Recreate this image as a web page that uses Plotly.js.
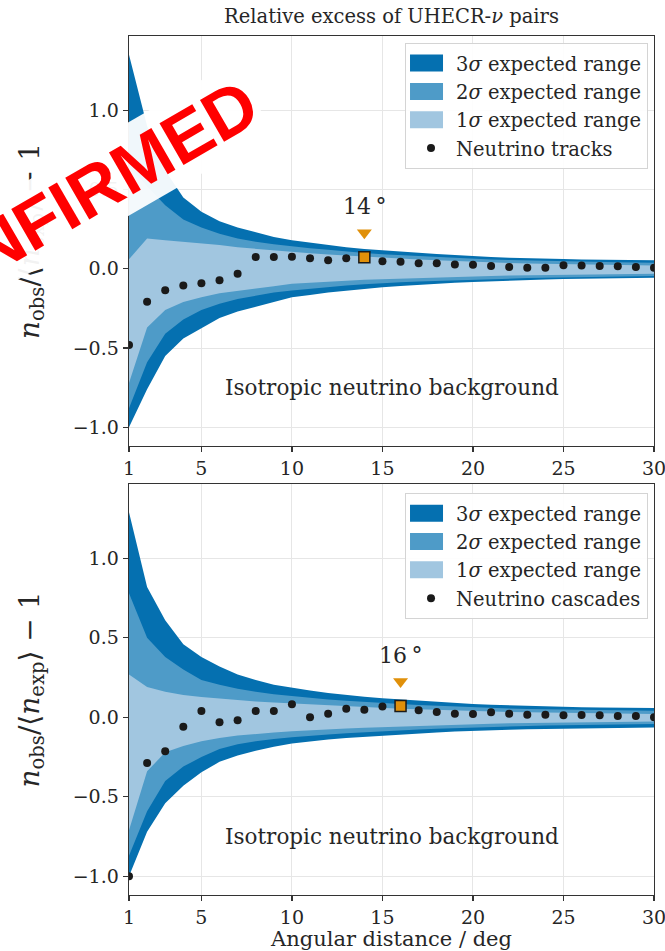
<!DOCTYPE html>
<html><head><meta charset="utf-8">
<script src="https://cdn.plot.ly/plotly-3.0.1.min.js"></script>
<style>html,body{margin:0;padding:0;background:#fff}</style>
</head><body><div id="chart" style="width:665px;height:951px"></div>
<script>
// ---------- data ----------
const angles = [1,2,3,4,5,6,7,8,9,10,11,12,13,14,15,16,17,18,19,20,21,22,23,24,25,26,27,28,29,30];

const tracksObs = [-0.48,-0.208,-0.135,-0.105,-0.092,-0.073,-0.032,0.074,0.074,0.076,0.066,0.053,0.066,0.072,0.047,0.044,0.034,0.035,0.027,0.025,0.017,0.011,0.006,0.006,0.022,0.02,0.018,0.016,0.011,0.007];
const tracks3Up = [1.35,0.90,0.62,0.45,0.36,0.30,0.26,0.23,0.20,0.18,0.165,0.15,0.135,0.125,0.116,0.108,0.10,0.093,0.086,0.079,0.074,0.07,0.066,0.063,0.061,0.059,0.057,0.055,0.054,0.053];
const tracks2Up = [0.65,0.52,0.40,0.31,0.26,0.22,0.19,0.17,0.155,0.141,0.13,0.12,0.108,0.10,0.091,0.085,0.079,0.073,0.068,0.063,0.059,0.055,0.052,0.049,0.047,0.045,0.043,0.041,0.039,0.038];
const tracks1Up = [0.06,0.19,0.18,0.17,0.16,0.15,0.135,0.125,0.115,0.105,0.098,0.09,0.083,0.077,0.07,0.064,0.058,0.053,0.048,0.043,0.039,0.036,0.033,0.031,0.029,0.027,0.025,0.024,0.022,0.021];
const tracks1Lo = [-0.72,-0.37,-0.26,-0.21,-0.18,-0.155,-0.14,-0.125,-0.11,-0.095,-0.088,-0.082,-0.076,-0.07,-0.064,-0.06,-0.057,-0.054,-0.051,-0.049,-0.046,-0.043,-0.041,-0.039,-0.037,-0.036,-0.035,-0.034,-0.033,-0.032];
const tracks2Lo = [-0.88,-0.59,-0.41,-0.32,-0.26,-0.22,-0.19,-0.17,-0.15,-0.137,-0.125,-0.115,-0.106,-0.098,-0.09,-0.085,-0.08,-0.076,-0.073,-0.07,-0.066,-0.062,-0.059,-0.056,-0.054,-0.052,-0.05,-0.049,-0.047,-0.046];
const tracks3Lo = [-1.0,-0.76,-0.55,-0.44,-0.375,-0.31,-0.27,-0.24,-0.21,-0.18,-0.165,-0.15,-0.138,-0.127,-0.116,-0.108,-0.1,-0.094,-0.089,-0.084,-0.079,-0.075,-0.071,-0.068,-0.065,-0.063,-0.061,-0.059,-0.058,-0.057];

const cascObs = [-1.0,-0.288,-0.213,-0.059,0.039,-0.031,-0.019,0.039,0.039,0.082,0.0,0.023,0.054,0.048,0.068,0.071,0.044,0.034,0.022,0.021,0.032,0.022,0.016,0.016,0.013,0.015,0.013,0.008,0.008,0.0];
const casc3Up = [1.29,0.82,0.61,0.46,0.38,0.32,0.27,0.235,0.205,0.185,0.168,0.153,0.14,0.13,0.12,0.112,0.104,0.097,0.09,0.084,0.079,0.075,0.071,0.068,0.065,0.063,0.061,0.06,0.059,0.058];
const casc2Up = [0.78,0.50,0.38,0.30,0.235,0.205,0.18,0.16,0.145,0.133,0.122,0.112,0.104,0.096,0.089,0.083,0.077,0.072,0.067,0.062,0.058,0.055,0.052,0.05,0.048,0.046,0.045,0.044,0.043,0.042];
const casc1Up = [0.27,0.19,0.16,0.14,0.128,0.118,0.108,0.1,0.093,0.087,0.08,0.074,0.068,0.063,0.058,0.054,0.05,0.046,0.043,0.04,0.037,0.034,0.032,0.03,0.028,0.026,0.025,0.023,0.022,0.021];
const casc1Lo = [-0.71,-0.34,-0.22,-0.18,-0.15,-0.13,-0.115,-0.105,-0.095,-0.087,-0.08,-0.075,-0.07,-0.065,-0.06,-0.056,-0.052,-0.049,-0.046,-0.043,-0.04,-0.038,-0.036,-0.034,-0.032,-0.03,-0.029,-0.028,-0.027,-0.026];
const casc2Lo = [-0.87,-0.59,-0.40,-0.31,-0.25,-0.2,-0.17,-0.15,-0.137,-0.126,-0.116,-0.108,-0.1,-0.094,-0.088,-0.082,-0.077,-0.072,-0.068,-0.064,-0.06,-0.057,-0.054,-0.051,-0.049,-0.047,-0.045,-0.044,-0.043,-0.042];
const casc3Lo = [-1.0,-0.72,-0.54,-0.43,-0.345,-0.28,-0.24,-0.21,-0.185,-0.165,-0.152,-0.14,-0.13,-0.122,-0.115,-0.108,-0.102,-0.096,-0.09,-0.085,-0.081,-0.078,-0.075,-0.072,-0.07,-0.068,-0.067,-0.066,-0.065,-0.064];

const peakTracks = 14;
const peakCasc = 16;
const xTickVals = [1,5,10,15,20,25,30];
const yTickVals = [-1.0,-0.5,0.0,0.5,1.0];
const bandNames = ['3<i>σ</i> expected range','2<i>σ</i> expected range','1<i>σ</i> expected range'];

// ---------- style ----------
const FONT = 'DejaVu Serif';
const TXT = '#262626';
const bandColors = ['#0570b0','#4e9bc8','#a1c6e0'];
const orange = '#e0900a';

function band(lo, up, color, name, xa, ya, leg){
  return {
    x: angles.concat(angles.slice().reverse()),
    y: up.concat(lo.slice().reverse()),
    xaxis: xa, yaxis: ya, legend: leg,
    mode: 'lines', fill: 'toself', fillcolor: color,
    line: {width: 0, color: color},
    name: name, showlegend: true, hoverinfo: 'skip'
  };
}

function panel(obs, b3u, b3l, b2u, b2l, b1u, b1l, peak, dotName, xa, ya, leg){
  const i = angles.indexOf(peak);
  return [
    band(b3l, b3u, bandColors[0], bandNames[0], xa, ya, leg),
    band(b2l, b2u, bandColors[1], bandNames[1], xa, ya, leg),
    band(b1l, b1u, bandColors[2], bandNames[2], xa, ya, leg),
    {x: angles, y: obs, xaxis: xa, yaxis: ya, legend: leg, mode: 'markers', name: dotName,
     marker: {color: '#1a1a1a', size: 8}},
    {x: [angles[i]], y: [obs[i]], xaxis: xa, yaxis: ya, mode: 'markers', showlegend: false,
     marker: {symbol: 'square', color: orange, size: 11, line: {color: '#1a1a1a', width: 1.5}}},
    {x: [angles[i]], y: [obs[i] + 0.155], xaxis: xa, yaxis: ya, mode: 'markers', showlegend: false,
     marker: {symbol: 'triangle-down', color: orange, size: 13, line: {width: 0}}}
  ];
}

const traces = [].concat(
  panel(tracksObs, tracks3Up, tracks3Lo, tracks2Up, tracks2Lo, tracks1Up, tracks1Lo, peakTracks, 'Neutrino tracks', 'x', 'y', 'legend'),
  panel(cascObs, casc3Up, casc3Lo, casc2Up, casc2Lo, casc1Up, casc1Lo, peakCasc, 'Neutrino cascades', 'x2', 'y2', 'legend2')
);

function xax(anchor, title){
  const a = {anchor: anchor, domain: [0,1], range: [1,30], tickvals: xTickVals,
    showline: true, mirror: true, linecolor: '#333', linewidth: 1.4,
    ticks: 'outside', ticklen: 5, tickwidth: 1.2, tickcolor: '#333',
    ticklabeloverflow: 'allow',
    showgrid: true, gridcolor: '#e6e6e6', gridwidth: 1, zeroline: false, layer: 'above traces',
    tickfont: {family: FONT, size: 19, color: TXT}};
  if (title) a.title = {text: title, font: {family: FONT, size: 21, color: TXT}, standoff: 4};
  return a;
}
const yTitle = '<i>n</i><sub>obs</sub>/⟨<i>n</i><sub>exp</sub>⟩ − 1';
function yax(anchor, domain){
  return {anchor: anchor, domain: domain, range: [-1.1175, 1.4675], tickvals: yTickVals, tickformat: '.1f',
    showline: true, mirror: true, linecolor: '#333', linewidth: 1.4,
    ticks: 'outside', ticklen: 5, tickwidth: 1.2, tickcolor: '#333',
    showgrid: true, gridcolor: '#e6e6e6', gridwidth: 1, zeroline: false, layer: 'above traces',
    tickfont: {family: FONT, size: 19, color: TXT},
    title: {text: yTitle, font: {family: FONT, size: 28, color: TXT}, standoff: 25}};
}

function legendCfg(y){
  return {x: 0.9886, xanchor: 'right', y: y, yanchor: 'top',
    bgcolor: 'rgba(255,255,255,0.92)', bordercolor: '#d4d4d4', borderwidth: 1,
    font: {family: FONT, size: 19.5, color: TXT}, tracegroupgap: 7, itemwidth: 40};
}

const iT = angles.indexOf(peakTracks), iC = angles.indexOf(peakCasc);
const layout = {
  width: 665, height: 951,
  margin: {l: 129, r: 11, t: 36, b: 56},
  paper_bgcolor: '#fff', plot_bgcolor: '#fff',
  showlegend: true,
  title: {text: 'Relative excess of UHECR-<i>ν</i> pairs', x: 0.5, xref: 'paper',
          y: 1 - 16/951, yref: 'container', yanchor: 'middle',
          font: {family: FONT, size: 19.5, color: TXT}},
  xaxis: xax('y'),
  yaxis: yax('x', [0.5227, 1]),
  xaxis2: xax('y2', 'Angular distance / deg'),
  yaxis2: yax('x2', [0, 0.4785]),
  legend: legendCfg(0.992),
  legend2: legendCfg(0.468),
  annotations: [
    {text: 'Isotropic neutrino background', x: 15.5, y: -0.75, xref: 'x', yref: 'y', showarrow: false,
     font: {family: FONT, size: 21.5, color: TXT}},
    {text: 'Isotropic neutrino background', x: 15.5, y: -0.75, xref: 'x2', yref: 'y2', showarrow: false,
     font: {family: FONT, size: 21.5, color: TXT}},
    {text: peakTracks + '\u2009°', x: peakTracks, y: tracksObs[iT] + 0.32, xref: 'x', yref: 'y', showarrow: false,
     font: {family: FONT, size: 22, color: TXT}},
    {text: peakCasc + '\u2009°', x: peakCasc, y: cascObs[iC] + 0.32, xref: 'x2', yref: 'y2', showarrow: false,
     font: {family: FONT, size: 22, color: TXT}},
    {text: 'UNCONFIRMED', x: -0.1985, y: 0.775, xref: 'paper', yref: 'paper', showarrow: false,
     xanchor: 'center', yanchor: 'middle', textangle: -30,
     font: {family: 'Liberation Sans', size: 70, color: '#ff0000', weight: 'bold'},
     bgcolor: 'rgba(255,255,255,0.94)', borderpad: 1}
  ]
};

Plotly.newPlot('chart', traces, layout, {displayModeBar: false, staticPlot: true}).then(function(gd){
  // draw legend area patches as filled rectangles like the reference legend
  gd.querySelectorAll('.legendfill path').forEach(function(p){
    p.setAttribute('d', 'M4,-8.5h33v17h-33z');
  });
  gd.querySelectorAll('.legendlines path').forEach(function(p){
    p.setAttribute('d', 'M4,0h0');
  });
});
</script></body></html>
